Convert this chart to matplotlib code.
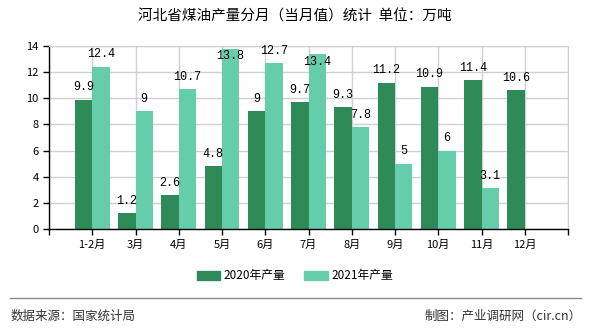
import numpy as np
import matplotlib
matplotlib.use('Agg')
import matplotlib.pyplot as plt
from matplotlib.patches import Patch

plt.rcParams['font.family'] = ['Noto Sans CJK SC', 'DejaVu Sans']

months = ['1-2月', '3月', '4月', '5月', '6月', '7月', '8月', '9月', '10月', '11月', '12月']
vals_2020 = [9.9, 1.2, 2.6, 4.8, 9, 9.7, 9.3, 11.2, 10.9, 11.4, 10.6]
vals_2021 = [12.4, 9, 10.7, 13.8, 12.7, 13.4, 7.8, 5, 6, 3.1, None]
series_names = ['2020年产量', '2021年产量']
colors = ['#2e8b57', '#66cdaa']

fig = plt.figure(figsize=(5.9, 3.3), dpi=100)
ax = fig.add_axes([49 / 590, 1 - 229 / 330, 519 / 590, 183 / 330])

x = np.arange(1, len(months) + 1)
w = 0.4
ymax = 14
label_font = dict(fontsize=8.5, family=['Liberation Mono', 'DejaVu Sans Mono'])


def put_label(xp, v):
    # labels that would run past the top of the plot go just inside the bar
    y = v + 0.95 if v + 1.3 <= ymax else v - 0.6
    ax.text(xp, y, '%g' % v, ha='center', va='center', zorder=3, **label_font)


for i, v in enumerate(vals_2020):
    ax.bar(x[i] - w / 2, v, w, color=colors[0], zorder=2)
    put_label(x[i] - w / 2, v)
for i, v in enumerate(vals_2021):
    if v is None:
        continue
    ax.bar(x[i] + w / 2, v, w, color=colors[1], zorder=2)
    put_label(x[i] + w / 2, v)

ax.set_xlim(0, 12)
ax.set_ylim(0, ymax)
ax.set_yticks(range(0, 15, 2))
ax.set_xticks(range(0, 13))
ax.set_xticklabels([''] + months + [''])
ax.tick_params(labelsize=8, length=4, width=1, color='black')
ax.grid(True, color='#d0d0d0', linewidth=1, zorder=0)
ax.set_axisbelow(True)
for s in ['top', 'right']:
    ax.spines[s].set_color('#d0d0d0')
for s in ['left', 'bottom']:
    ax.spines[s].set_color('black')
    ax.spines[s].set_linewidth(1)

fig.text(0.5, 1 - 17 / 330, '河北省煤油产量分月（当月值）统计  单位：万吨',
         ha='center', va='center', fontsize=10.5)

handles = [Patch(color=c) for c in colors]
fig.legend(handles, series_names, loc='center', bbox_to_anchor=(0.5, 1 - 276 / 330),
           ncol=2, frameon=False, fontsize=8.5, handlelength=2.0, handleheight=0.8,
           columnspacing=1.6, handletextpad=0.3)

fig.add_artist(plt.Line2D([10 / 590, 581 / 590], [1 - 298 / 330, 1 - 298 / 330],
                          color='#888888', linewidth=1))
fig.text(11 / 590, 1 - 316 / 330, '数据来源：国家统计局', ha='left', va='center',
         fontsize=9, color='#333333')
fig.text(582 / 590, 1 - 316 / 330, '制图：产业调研网（cir.cn）', ha='right', va='center',
         fontsize=9, color='#333333')

fig.savefig('out.png', dpi=100)
